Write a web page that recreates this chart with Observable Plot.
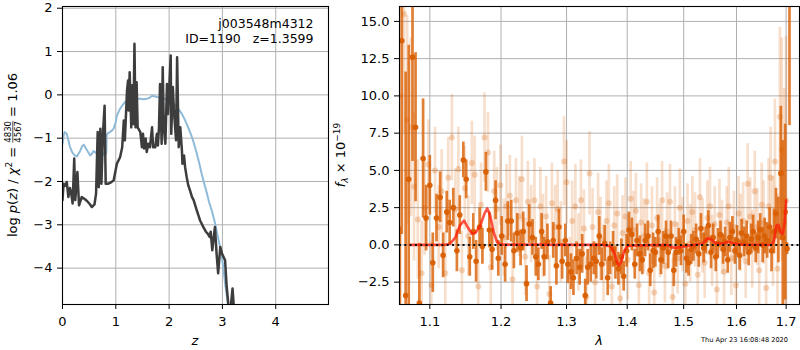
<!DOCTYPE html>
<html><head><meta charset="utf-8">
<script src="https://cdn.jsdelivr.net/npm/d3@7"></script>
<script src="https://cdn.jsdelivr.net/npm/@observablehq/plot@0.6"></script>
<style>
html,body{margin:0;padding:0;background:#fff;}
#wrap{position:relative;width:800px;height:350px;overflow:hidden;background:#fff;}
#wrap svg{position:absolute;top:0;}
svg text{white-space:pre;}
</style></head><body><div id="wrap"></div>
<script>
// ---------------- LEFT PANEL DATA: log p(z) ----------------
const zTicks = [0, 1, 2, 3, 4];
const pTicks = [-4, -3, -2, -1, 0, 1, 2];
const objName = "j003548m4312";
const objInfo = "ID=1190   z=1.3599";
const chiLabel = {num: "4830", den: "4567", value: "1.06"};

const pzZ = [0.00,0.02,0.05,0.08,0.11,0.14,0.16,0.19,0.22,0.24,0.28,0.31,0.36,0.41,0.46,0.51,0.55,0.60,0.63,0.66,
  0.68,0.71,0.73,0.76,0.79,0.81,0.86,0.91,0.96,1.02,1.08,1.12,1.15,1.17,1.21,1.23,1.24,1.26,1.29,1.31,
  1.33,1.35,1.37,1.39,1.41,1.46,1.49,1.51,1.53,1.56,1.58,1.61,1.64,1.68,1.70,1.74,1.77,1.79,1.81,1.83,
  1.86,1.88,1.90,1.93,1.96,1.98,2.00,2.03,2.04,2.07,2.09,2.13,2.15,2.18,2.21,2.24,2.25,2.28,2.30,2.33,
  2.36,2.39,2.43,2.46,2.49,2.52,2.55,2.58,2.61,2.64,2.69,2.72,2.76,2.78,2.81,2.83,2.86,2.89,2.92,2.96,
  2.99,3.02,3.05,3.08,3.11,3.14,3.19,3.22];
const pzLog = [-2.43,-2.05,-2.10,-2.01,-2.36,-2.15,-2.24,-2.51,-1.47,-2.43,-1.78,-2.55,-2.36,-2.40,-2.45,-2.52,-2.59,-2.53,-2.28,-0.86,
  -2.13,-0.78,-2.05,-0.86,-0.25,-2.05,-2.05,-2.02,-1.97,-1.59,-1.44,-1.21,-0.59,-1.05,0.10,0.33,-0.36,0.52,-0.75,0.22,
  -0.67,1.18,-0.75,0.29,-0.75,-0.86,-1.21,-0.90,-1.24,-1.01,-1.32,-1.13,-1.21,-0.75,-1.21,-1.21,-0.90,-1.17,-0.75,0.25,
  -1.13,0.64,-0.75,-1.13,0.25,-0.44,0.10,0.91,-0.90,0.18,-0.36,-1.05,0.87,-1.21,-0.75,-1.28,-1.59,-1.40,-1.67,-1.90,
  -2.09,-2.20,-2.36,-2.43,-2.55,-2.67,-2.78,-2.90,-2.97,-3.05,-3.16,-3.20,-3.28,-3.16,-3.59,-3.36,-3.05,-3.66,-4.12,-3.51,
  -3.66,-3.74,-3.82,-4.43,-4.82,-5.10,-4.47,-5.00];

const priorZ = [0.00,0.02,0.04,0.08,0.11,0.14,0.18,0.23,0.27,0.30,0.33,0.37,0.40,0.44,0.48,0.52,0.55,0.58,0.62,0.66,
  0.70,0.74,0.77,0.80,0.82,0.83,0.86,0.89,0.93,0.96,1.00,1.02,1.05,1.08,1.12,1.17,1.22,1.27,1.32,1.36,
  1.41,1.46,1.52,1.58,1.63,1.68,1.72,1.77,1.83,1.89,1.95,2.02,2.08,2.14,2.19,2.24,2.29,2.33,2.38,2.43,
  2.48,2.52,2.57,2.61,2.66,2.71,2.75,2.80,2.85,2.89,2.94,2.99,3.02,3.05,3.08,3.11];
const priorLog = [-1.13,-0.95,-0.86,-0.90,-1.05,-1.20,-1.32,-1.40,-1.42,-1.36,-1.30,-1.18,-1.15,-1.24,-1.32,-1.40,-1.36,-1.30,-1.33,-1.38,
  -1.28,-1.32,-1.38,-1.30,-1.35,-0.92,-0.88,-0.86,-0.82,-0.78,-0.62,-0.48,-0.40,-0.32,-0.25,-0.17,-0.12,-0.09,-0.06,-0.05,
  -0.09,-0.09,-0.10,-0.09,-0.07,-0.02,-0.03,-0.05,-0.06,-0.08,-0.10,-0.13,-0.19,-0.28,-0.35,-0.44,-0.56,-0.67,-0.82,-0.98,
  -1.18,-1.36,-1.60,-1.82,-2.05,-2.28,-2.48,-2.67,-2.90,-3.13,-3.42,-3.74,-4.02,-4.35,-4.62,-4.90];

// ---------------- RIGHT PANEL DATA: spectrum ----------------
const lamTicks = [1.1, 1.2, 1.3, 1.4, 1.5, 1.6, 1.7];
const fTicks = [-2.5, 0, 2.5, 5, 7.5, 10, 12.5, 15];
const timestamp = "Thu Apr 23 16:08:48 2020";

const darkWave = [1.0605,1.063,1.068,1.072,1.077,1.081,1.086,1.091,1.095,1.100,1.104,
  1.109,1.114,1.118,1.123,1.127,1.132,1.137,1.141,1.146,1.150,
  1.155,1.160,1.164,1.169,1.173,1.178,1.183,1.187,1.192,1.196,
  1.201,1.206,1.210,1.215,1.219,1.224,1.229,1.233,1.238,1.242,
  1.247,1.252,1.256,1.261,1.265,1.270,1.275,1.279,1.284,1.288,
  1.293,1.298,1.302,1.307,1.311,1.316,1.321,1.325,1.330,1.334,
  1.339,1.344,1.348,1.353,1.357,1.362,1.367,1.371,1.376,1.380,
  1.385,1.390,1.394,1.399,1.403,1.408,1.413,1.417,1.422,1.426,
  1.431,1.436,1.440,1.445,1.449,1.454,1.459,1.463,1.468,1.472,
  1.477,1.482,1.486,1.491,1.495,1.500,1.505,1.509,1.514,1.518,
  1.523,1.528,1.532,1.537,1.541,1.546,1.551,1.555,1.560,1.564,
  1.569,1.574,1.578,1.583,1.587,1.592,1.597,1.601,1.606,1.610,
  1.615,1.620,1.624,1.629,1.633,1.638,1.643,1.647,1.652,1.656,
  1.661,1.666,1.670,1.675,1.679,1.684,1.689,1.693,1.698,1.702,1.707];
const darkFlux = [-5.0,13.7,-3.4,4.4,12.6,7.9,-3.9,5.8,1.8,4.0,-1.2,
  1.8,3.2,-0.7,2.2,1.5,2.5,-0.4,2.0,5.7,4.4,
  -0.8,0.9,-1.1,1.2,-0.1,4.9,1.0,-0.3,3.0,-0.9,
  0.6,-1.3,1.6,1.6,-0.4,0.8,-0.2,0.9,-2.6,1.4,
  0.5,-0.8,-1.3,0.9,-0.8,0.2,-3.9,0.3,-1.4,1.2,
  -1.1,0.3,-1.3,-1.8,-2.2,-0.9,-1.5,-0.6,-3.4,-1.5,
  -1.3,-0.9,-1.1,0.6,-1.3,0.1,-2.2,-0.9,-0.3,-1.2,
  -1.6,-0.8,-2.1,-0.4,1.0,0.7,-1.3,0.3,-0.6,-1.0,
  0.3,0.6,-1.7,-0.4,-0.5,0.9,-1.0,-0.2,0.6,-0.5,
  0.6,-1.7,-0.5,0.2,-0.4,0.9,-0.9,-1.2,-0.3,-0.1,
  0.4,-0.6,1.1,-0.2,0.3,1.3,-0.5,0.5,-0.8,0.1,
  0.7,-0.3,0.2,-1.0,0.5,0.9,-0.4,0.3,-0.7,0.8,
  0.2,0.6,-0.5,0.4,0.9,-0.2,0.5,1.0,0.0,0.6,
  0.3,1.2,-0.4,0.9,2.1,1.0,4.8,0.5,2.2,-0.25,20.0];
const darkErr = [6.2,13,15,9,7,5,4,4,2.2,2.0,2.0,
  1.6,1.7,1.5,1.4,1.5,1.3,1.4,1.3,1.2,1.3,
  1.3,1.2,1.4,1.3,1.2,1.3,1.2,1.4,1.3,1.2,
  1.3,1.2,1.3,1.4,1.2,1.3,1.2,1.3,1.2,1.3,
  1.2,1.3,1.1,1.2,1.3,1.2,1.1,1.2,1.3,1.2,
  1.2,1.1,1.3,1.2,1.2,1.1,1.2,1.3,1.1,1.2,
  1.2,1.1,1.2,1.3,1.1,1.2,1.2,1.1,1.2,1.1,
  1.1,1.2,1.0,1.1,1.2,1.1,1.0,1.1,1.2,1.0,
  1.1,1.0,1.1,1.2,1.0,1.1,1.0,1.1,1.0,1.1,
  1.0,1.1,1.0,0.9,1.0,1.1,1.0,0.9,1.0,1.0,
  1.0,0.9,1.0,1.0,0.9,1.0,1.1,0.9,1.0,1.0,
  0.9,1.0,1.0,0.9,1.0,1.0,0.9,1.0,1.0,0.9,
  1.0,1.0,0.9,1.0,1.1,1.0,1.1,1.1,1.2,1.2,
  1.2,1.3,1.4,1.5,1.7,2.2,4.5,6.5,5.9,0.4,12.0];

const lightWave = [1.061,1.066,1.070,1.075,1.079,1.084,1.089,1.093,1.098,1.102,
  1.107,1.112,1.116,1.121,1.125,1.130,1.135,1.139,1.144,1.148,
  1.153,1.158,1.162,1.167,1.171,1.176,1.181,1.185,1.190,1.194,
  1.199,1.204,1.208,1.213,1.217,1.222,1.227,1.231,1.236,1.240,
  1.245,1.250,1.254,1.259,1.263,1.268,1.273,1.277,1.282,1.286,
  1.291,1.296,1.300,1.305,1.309,1.314,1.319,1.323,1.328,1.332,
  1.337,1.342,1.346,1.351,1.355,1.360,1.365,1.369,1.374,1.378,
  1.383,1.388,1.392,1.397,1.401,1.406,1.411,1.415,1.420,1.424,
  1.429,1.434,1.438,1.443,1.447,1.452,1.457,1.461,1.466,1.470,
  1.475,1.480,1.484,1.489,1.493,1.498,1.503,1.507,1.512,1.516,
  1.521,1.526,1.530,1.535,1.539,1.544,1.549,1.553,1.558,1.562,
  1.567,1.572,1.576,1.581,1.585,1.590,1.595,1.599,1.604,1.608,
  1.613,1.618,1.622,1.627,1.631,1.636,1.641,1.645,1.650,1.654,
  1.659,1.664,1.668,1.673,1.677,1.682,1.687,1.691,1.696,1.700];
const lightFlux = [10.0,15.5,8.4,7.9,3.9,1.7,-1.9,2.5,5.4,-2.7,
  5.0,1.2,3.6,-1.9,4.5,7.2,2.4,5.1,-1.7,3.8,
  0.6,5.5,4.7,-2.8,2.7,7.2,6.2,-1.5,3.6,2.4,
  4.0,0.5,2.6,3.3,-2.3,3.0,1.9,4.4,-0.8,2.9,
  1.4,3.0,-2.8,2.6,0.6,1.9,-3.3,2.8,1.2,2.4,
  0.2,5.6,4.2,-2.1,1.6,2.6,-0.5,3.0,1.1,-3.5,
  4.8,1.2,-2.5,2.2,0.4,-1.2,1.6,2.8,-2.8,1.3,
  2.1,-3.6,0.8,1.9,-1.0,3.1,1.0,2.3,-2.7,1.5,
  0.6,2.9,-1.9,1.3,-3.2,1.8,0.3,3.0,-1.4,0.9,
  2.9,-3.5,1.4,-0.9,2.5,0.7,-2.6,1.6,0.1,2.2,
  1.0,-2.0,3.2,0.6,-1.2,1.8,2.6,-0.4,1.4,-3.0,
  2.0,0.5,-1.8,1.5,2.6,-0.9,1.2,-2.7,2.1,0.8,
  1.6,-1.1,4.1,1.9,-0.3,3.6,1.2,-1.7,2.7,1.5,
  -2.9,2.6,4.5,0.9,5.6,-1.6,8.6,6.4,1.5,3.0];
const lightErr = [10,8,7,6,5,4,3.5,3.2,3.0,2.9,
  2.9,2.8,2.8,2.8,2.7,2.9,2.7,2.8,2.6,2.8,
  2.7,2.8,2.6,2.7,2.8,3.0,2.7,2.6,2.7,2.8,
  2.7,2.6,2.8,2.7,2.6,2.8,2.7,2.9,2.6,2.7,
  2.6,2.8,2.7,2.6,2.8,2.7,2.6,2.7,2.8,2.6,
  2.7,3.0,2.8,2.6,2.7,2.8,2.6,2.7,2.6,2.7,
  2.8,2.6,2.7,2.6,2.8,2.6,2.7,2.6,2.7,2.6,
  2.6,2.7,2.5,2.6,2.7,2.5,2.6,2.5,2.7,2.6,
  2.5,2.6,2.5,2.6,2.5,2.7,2.5,2.6,2.5,2.6,
  2.5,2.6,2.5,2.4,2.6,2.5,2.4,2.5,2.6,2.4,
  2.5,2.4,2.6,2.5,2.4,2.5,2.6,2.4,2.5,2.5,
  2.4,2.5,2.5,2.4,2.6,2.5,2.4,2.5,2.5,2.6,
  2.6,2.5,2.7,2.6,2.6,2.7,2.6,2.7,2.8,2.8,
  3.0,3.2,3.4,3.7,4.2,5.0,6.0,7.5,9.0,11.0];

const modelWave = [1.074,1.120,1.128,1.135,1.141,1.147,1.152,1.158,1.163,1.170,1.176,1.180,1.184,1.189,1.194,1.200,
  1.360,1.372,1.378,1.383,1.386,1.390,1.395,1.401,1.470,1.478,1.485,1.492,1.500,1.520,1.535,1.545,1.552,1.560,
  1.575,1.585,1.595,1.610,1.670,1.675,1.680,1.684,1.689,1.693,1.697,1.700];
const modelFlux = [0,0,0.1,0.5,1.3,1.63,1.2,0.75,0.8,1.3,2.1,2.45,2.0,0.9,0.2,0.02,
  0,-0.1,-0.5,-1.2,-1.39,-1.1,-0.4,-0.05,0,-0.15,-0.2,-0.15,-0.1,0,0.1,0.45,0.35,0.1,
  0.1,0.22,0.1,0.02,0,0.3,1.3,1.35,0.8,0.75,1.5,3.0];

// ---------------- BUILD ----------------
const FONT = "DejaVu Sans";
const minus = s => s.replace("-", "\u2212");
const intFmt = d => minus(String(d));
const oneFmt = d => minus(d.toFixed(1));
const ORANGE = "#d95f02";
const GRID = "#b0b0b0";

const pzData = pzZ.map((z, i) => ({z, p: pzLog[i]}));
const priorData = priorZ.map((z, i) => ({z, p: priorLog[i]}));
const dark = darkWave.map((w, i) => ({w, f: darkFlux[i], e: darkErr[i]}));
const light = lightWave.map((w, i) => ({w, f: lightFlux[i], e: lightErr[i]}));
const model = modelWave.map((w, i) => ({w, f: modelFlux[i]}));

const wrap = document.getElementById("wrap");
const baseStyle = {fontFamily: FONT, fontSize: "13px", background: "transparent", color: "black", overflow: "visible"};

const left = Plot.plot({
  width: 330, height: 350, marginLeft: 62, marginRight: 2, marginTop: 6, marginBottom: 46,
  style: baseStyle,
  x: {domain: [0, 4.99], ticks: zTicks, tickFormat: intFmt, tickSize: 5, tickPadding: 7, label: null},
  y: {domain: [-4.84, 2.04], ticks: pTicks, tickFormat: intFmt, tickSize: 5, tickPadding: 5, label: null},
  marks: [
    Plot.ruleX(zTicks, {stroke: GRID, strokeWidth: 1}),
    Plot.ruleY(pTicks, {stroke: GRID, strokeWidth: 1}),
    Plot.line(priorData, {x: "z", y: "p", stroke: "#8fbbd9", strokeWidth: 2, clip: true}),
    Plot.line(pzData, {x: "z", y: "p", stroke: "#3d3d3d", strokeWidth: 2.5, strokeLinejoin: "round", clip: true}),
    Plot.text([objName], {text: d => d, frameAnchor: "top-right", dx: -15, dy: 17, textAnchor: "end", lineAnchor: "middle", fontSize: 12.5}),
    Plot.text([objInfo], {text: d => d, frameAnchor: "top-right", dx: -15, dy: 32, textAnchor: "end", lineAnchor: "middle", fontSize: 12.5}),
    Plot.frame({stroke: "black", strokeWidth: 1.1})
  ]
});
left.style.left = "0px";
wrap.appendChild(left);

const clampY = v => Math.max(-4, Math.min(16, v));
const inY = d => d.f >= -4.2 && d.f <= 16.2;
const right = Plot.plot({
  width: 470, height: 350, marginLeft: 69, marginRight: 1, marginTop: 6, marginBottom: 46,
  style: baseStyle,
  x: {type: "log", domain: [1.06, 1.728], ticks: lamTicks, tickFormat: oneFmt, tickSize: 5, tickPadding: 7, label: null},
  y: {domain: [-4, 16], ticks: fTicks, tickFormat: oneFmt, tickSize: 5, tickPadding: 5, label: null},
  marks: [
    Plot.ruleX(lamTicks, {stroke: GRID, strokeWidth: 1}),
    Plot.ruleY(fTicks, {stroke: GRID, strokeWidth: 1}),
    Plot.ruleX(light, {x: "w", y1: d => clampY(d.f - d.e), y2: d => clampY(d.f + d.e), stroke: ORANGE, strokeOpacity: 0.2, strokeWidth: 2.7, clip: true}),
    Plot.dot(light.filter(inY), {x: "w", y: "f", r: 3, fill: ORANGE, fillOpacity: 0.25, stroke: "none", clip: true}),
    Plot.ruleX(dark, {x: "w", y1: d => clampY(d.f - d.e), y2: d => clampY(d.f + d.e), stroke: ORANGE, strokeOpacity: 0.8, strokeWidth: 2.7, clip: true}),
    Plot.dot(dark.filter(inY), {x: "w", y: "f", r: 2.8, fill: ORANGE, fillOpacity: 0.95, stroke: "none", clip: true}),
    Plot.line(model, {x: "w", y: "f", stroke: "#ff1a0a", strokeOpacity: 0.75, strokeWidth: 2.6, clip: true}),
    Plot.ruleY([0], {stroke: "#111", strokeWidth: 2, strokeDasharray: "2,3.3"}),
    Plot.frame({stroke: "black", strokeWidth: 1.1})
  ]
});
right.style.left = "330px";
wrap.appendChild(right);

d3.selectAll("#wrap svg text").attr("xml:space", "preserve");

// ---------------- OVERLAY: axis labels with math ----------------
const ov = d3.select(wrap).append("svg")
  .attr("width", 800).attr("height", 350)
  .style("left", "0px").style("pointer-events", "none")
  .attr("font-family", FONT).attr("fill", "black");

function richText(tx, ty, rot, parts, base) {
  const g = ov.append("g").attr("transform", `translate(${tx},${ty}) rotate(${rot})`);
  const inner = g.append("g");
  let cx = 0;
  for (const p of parts) {
    if (p.num !== undefined) {
      const a = inner.append("text").attr("xml:space", "preserve").attr("font-size", p.size).attr("y", p.ny).text(p.num);
      const b = inner.append("text").attr("xml:space", "preserve").attr("font-size", p.size).attr("y", p.dny).text(p.den);
      const w = Math.max(a.node().getComputedTextLength(), b.node().getComputedTextLength());
      a.attr("x", cx + w / 2).attr("text-anchor", "middle");
      b.attr("x", cx + w / 2).attr("text-anchor", "middle");
      inner.append("line").attr("x1", cx).attr("x2", cx + w).attr("y1", p.by).attr("y2", p.by)
        .attr("stroke", "black").attr("stroke-width", 0.7);
      cx += w;
    } else {
      const t = inner.append("text").attr("xml:space", "preserve").attr("x", cx).attr("y", p.dy || 0)
        .attr("font-size", p.size || base).text(p.t);
      if (p.i) t.attr("font-style", "italic");
      cx += t.node().getComputedTextLength();
    }
  }
  inner.attr("transform", `translate(${-cx / 2},0)`);
}

richText(17, 155, -90, [
  {t: "log "}, {t: "p", i: true}, {t: "("}, {t: "z", i: true}, {t: ") / "},
  {t: "\u03c7", i: true}, {t: "2", size: 9, dy: -5.5}, {t: " = "},
  {num: chiLabel.num, den: chiLabel.den, size: 8.5, ny: -5.8, dny: 4.2, by: -4.2},
  {t: " = " + chiLabel.value}
], 13);

richText(345, 155, -90, [
  {t: "f", i: true}, {t: "\u03bb", i: true, size: 9, dy: 3}, {t: " \u00d7 10"},
  {t: "\u221219", size: 9, dy: -5.5}
], 13);

ov.append("text").attr("x", 195).attr("y", 345).attr("text-anchor", "middle")
  .attr("font-size", 13).attr("font-style", "italic").text("z");
ov.append("text").attr("x", 599).attr("y", 345).attr("text-anchor", "middle")
  .attr("font-size", 13).attr("font-style", "italic").text("\u03bb");
ov.append("text").attr("x", 788).attr("y", 341.5).attr("text-anchor", "end")
  .attr("font-size", 6.6).text(timestamp);
</script></body></html>
